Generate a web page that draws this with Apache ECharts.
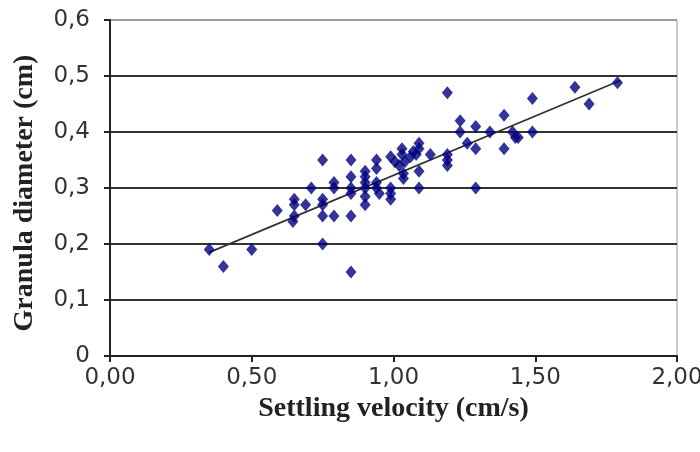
<!DOCTYPE html>
<html>
<head>
<meta charset="utf-8">
<script src="https://cdn.jsdelivr.net/npm/echarts@6/dist/echarts.min.js"></script>
<style>
  html, body { margin: 0; padding: 0; background: #fff; }
  #chart { width: 700px; height: 452px; }
</style>
</head>
<body>
<div id="chart"></div>
<script>
// settling velocity (cm/s)
const velocity = [
  0.35, 0.40, 0.50, 0.59, 0.65, 0.65, 0.645, 0.65, 0.69, 0.71,
  0.75, 0.75, 0.75, 0.75, 0.75, 0.79, 0.79, 0.79, 0.85, 0.85,
  0.85, 0.85, 0.85, 0.85, 0.90, 0.90, 0.90, 0.90, 0.90, 0.90,
  0.94, 0.94, 0.94, 0.94, 0.95, 0.99, 0.99, 0.99, 0.99, 1.005,
  1.02, 1.04, 1.06, 1.07, 1.03, 1.03, 1.035, 1.035, 1.09, 1.09,
  1.08, 1.09, 1.09, 1.13, 1.19, 1.19, 1.19, 1.19, 1.235, 1.235,
  1.26, 1.29, 1.29, 1.29, 1.34, 1.39, 1.39, 1.42, 1.43, 1.44,
  1.49, 1.49, 1.64, 1.69, 1.79
];
// granula diameter (cm)
const diameter = [
  0.19, 0.16, 0.19, 0.26, 0.28, 0.27, 0.24, 0.25, 0.27, 0.30,
  0.35, 0.28, 0.27, 0.25, 0.20, 0.31, 0.30, 0.25, 0.35, 0.32,
  0.30, 0.29, 0.25, 0.15, 0.33, 0.32, 0.31, 0.30, 0.285, 0.27,
  0.35, 0.335, 0.31, 0.30, 0.29, 0.356, 0.30, 0.29, 0.28, 0.347,
  0.34, 0.347, 0.356, 0.365, 0.37, 0.36, 0.326, 0.317, 0.38, 0.37,
  0.36, 0.33, 0.30, 0.36, 0.36, 0.35, 0.34, 0.47, 0.42, 0.40,
  0.38, 0.41, 0.37, 0.30, 0.40, 0.43, 0.37, 0.40, 0.39, 0.39,
  0.46, 0.40, 0.48, 0.45, 0.488
];
// linear trend line end points
const trendX = [0.35, 1.80];
const trendY = [0.185, 0.492];

const points = velocity.map((v, i) => [v, diameter[i]]);
const trend = trendX.map((v, i) => [v, trendY[i]]);

const comma = (v, d) => v.toFixed(d).replace('.', ',');

const chart = echarts.init(document.getElementById('chart'));
chart.setOption({
  animation: false,
  grid: {
    left: 110, right: 23, top: 20, bottom: 96,
    outerBoundsMode: 'none',
    containLabel: false,
    show: true, borderColor: '#9a9a9a', borderWidth: 1,
  },
  xAxis: {
    type: 'value',
    min: 0, max: 2, interval: 0.5,
    name: 'Settling velocity (cm/s)',
    nameLocation: 'middle',
    nameGap: 38,
    nameTextStyle: {
      fontFamily: 'Liberation Serif', fontWeight: 'bold', fontSize: 28, color: '#222',
    },
    axisLine: { lineStyle: { color: '#222', width: 2 } },
    axisTick: { show: true, length: 6, lineStyle: { color: '#222', width: 2 } },
    axisLabel: {
      margin: 11,
      fontFamily: 'DejaVu Sans', fontSize: 23, color: '#333',
      formatter: (v) => comma(v, 2),
    },
    splitLine: { show: false },
  },
  yAxis: {
    type: 'value',
    min: 0, max: 0.6, interval: 0.1,
    name: 'Granula diameter (cm)',
    nameLocation: 'middle',
    nameGap: 71,
    nameTextStyle: {
      fontFamily: 'Liberation Serif', fontWeight: 'bold', fontSize: 28, color: '#222',
      padding: [0, 10, 0, 0],
    },
    axisLine: { show: true, lineStyle: { color: '#222', width: 2 } },
    axisTick: { show: true, length: 6, lineStyle: { color: '#222', width: 2 } },
    axisLabel: {
      margin: 20,
      fontFamily: 'DejaVu Sans', fontSize: 23, color: '#333',
      formatter: (v) => (v === 0 ? '0' : comma(v, 1)),
    },
    splitLine: {
      show: true,
      lineStyle: {
        color: ['#333', '#333', '#333', '#333', '#333', '#333', '#9a9a9a'],
        width: 1.8,
      },
    },
  },
  series: [
    {
      type: 'line',
      data: trend,
      symbol: 'none',
      lineStyle: { color: '#333', width: 1.8 },
      z: 3,
    },
    {
      type: 'scatter',
      data: points,
      symbol: 'diamond',
      symbolSize: [11, 13],
      itemStyle: { color: '#000080' },
      z: 4,
    },
  ],
});
</script>
</body>
</html>
